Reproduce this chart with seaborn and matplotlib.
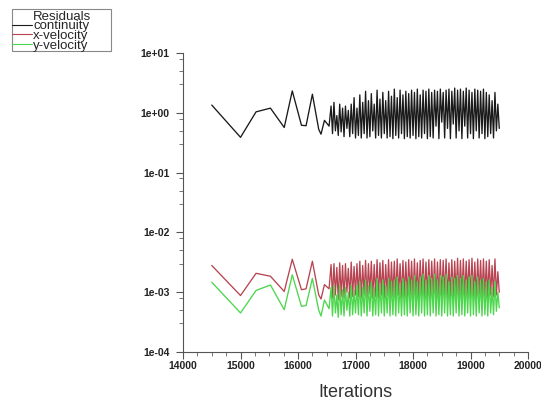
import numpy as np
import pandas as pd
import seaborn as sns
import matplotlib
matplotlib.use("Agg")
import matplotlib.pyplot as plt
from matplotlib.lines import Line2D
from matplotlib.patches import Rectangle
from matplotlib.ticker import MultipleLocator, LogLocator, FuncFormatter, NullFormatter

# sparse start of the run
iters_early = [14500, 15000, 15270, 15520, 15760, 15900, 16060, 16140, 16250, 16360, 16400, 16460, 16540]
cont_early = [1.35, 0.39, 1.04, 1.2, 0.57, 2.33, 0.62, 0.61, 2.05, 0.53, 0.44, 0.75, 0.6]
xvel_early = [2.8, 0.88, 2.07, 1.85, 1.03, 3.55, 1.1, 1.14, 3.3, 0.9, 0.77, 1.34, 1.14]   # x 1e-3
yvel_early = [1.47, 0.45, 1.07, 1.32, 0.51, 1.96, 0.58, 0.6, 1.7, 0.5, 0.4, 0.74, 0.53]   # x 1e-3

# dense oscillating part, one value every 25 iterations
iters_dense = list(range(16575, 19525, 25))
cont_dense = [
    1.3, 0.45, 1.5, 0.5, 0.9, 0.42, 1.4, 0.48, 1.2, 0.4, 1.3, 0.55, 1.1, 0.4, 1.4, 0.45, 1.8, 0.38,
    1.2, 0.42, 2.0, 0.38, 1.5, 0.45, 2.3, 0.38, 1.6, 0.4, 2.1, 0.5, 1.4, 0.38, 2.4, 0.42, 1.7, 0.38,
    2.2, 0.45, 1.6, 0.38, 2.3, 0.4, 1.9, 0.37, 2.5, 0.42, 1.8, 0.38, 2.4, 0.45, 2.0, 0.37, 2.3, 0.4,
    2.1, 0.38, 2.4, 0.42, 2.2, 0.37, 2.5, 0.4, 2.0, 0.38, 2.4, 0.45, 2.3, 0.37, 2.5, 0.4, 2.2, 0.38,
    2.4, 0.6, 2.3, 0.37, 2.5, 0.7, 2.2, 0.38, 2.4, 0.55, 2.5, 0.37, 2.3, 0.65, 2.6, 0.38, 2.4, 0.5,
    2.5, 0.37, 2.3, 0.6, 2.6, 0.38, 2.4, 0.45, 2.2, 0.37, 2.5, 0.5, 2.4, 0.38, 2.3, 0.45, 2.5, 0.37,
    2.2, 0.4, 2.0, 0.45, 1.6, 0.38, 2.2, 0.5, 1.4, 0.55,
]
xvel_dense = [
    2.9, 0.8, 3.0, 0.9, 2.6, 0.75, 3.1, 0.85, 2.8, 0.8, 3.0, 1.0, 2.5, 0.8, 3.2, 0.85, 2.7, 0.9,
    3.0, 0.85, 3.3, 0.8, 2.8, 0.9, 3.4, 0.8, 3.0, 0.95, 3.3, 0.8, 2.9, 0.85, 3.5, 0.8, 3.1, 0.9,
    3.4, 0.8, 2.9, 0.9, 3.5, 0.8, 3.2, 0.85, 3.3, 0.8, 3.6, 0.9, 3.0, 0.8, 3.4, 0.85, 3.2, 0.8,
    3.5, 0.9, 3.3, 0.8, 3.6, 0.85, 3.1, 0.8, 3.4, 0.9, 3.6, 0.8, 3.2, 0.85, 3.5, 0.8, 3.3, 0.9,
    3.6, 0.8, 3.2, 0.85, 3.5, 0.8, 3.4, 0.9, 3.6, 0.8, 3.1, 0.85, 3.5, 0.8, 3.3, 0.9, 3.7, 0.8,
    3.4, 0.85, 3.6, 0.8, 3.3, 0.9, 3.5, 0.8, 3.7, 0.85, 3.2, 0.8, 3.6, 0.9, 3.4, 0.8, 3.6, 0.85,
    3.3, 0.8, 3.5, 0.9, 2.8, 0.85, 3.6, 0.9, 2.2, 1.0,
]
yvel_dense = [
    1.2, 0.4, 1.3, 0.45, 0.9, 0.38, 1.3, 0.42, 1.1, 0.4, 1.2, 0.5, 1.0, 0.4, 1.3, 0.42, 1.1, 0.45,
    1.3, 0.42, 1.5, 0.4, 1.2, 0.45, 1.6, 0.4, 1.3, 0.48, 1.5, 0.4, 1.2, 0.42, 1.7, 0.4, 1.4, 0.45,
    1.6, 0.4, 1.3, 0.45, 1.7, 0.4, 1.5, 0.42, 1.6, 0.4, 1.8, 0.45, 1.4, 0.4, 1.7, 0.42, 1.5, 0.4,
    1.8, 0.45, 1.6, 0.4, 1.9, 0.42, 1.5, 0.4, 1.8, 0.45, 2.0, 0.4, 1.6, 0.42, 1.9, 0.4, 1.7, 0.45,
    2.0, 0.4, 1.6, 0.42, 1.9, 0.4, 1.8, 0.45, 2.0, 0.4, 1.5, 0.42, 1.8, 0.4, 1.7, 0.45, 1.9, 0.4,
    1.7, 0.42, 1.9, 0.4, 1.6, 0.45, 1.8, 0.4, 1.9, 0.42, 1.5, 0.4, 1.8, 0.45, 1.6, 0.4, 1.7, 0.42,
    1.5, 0.4, 1.6, 0.45, 1.2, 0.42, 1.5, 0.48, 1.0, 0.55,
]

series_names = ["continuity", "x-velocity", "y-velocity"]
colors = {"continuity": "#1a1a1a", "x-velocity": "#b84452", "y-velocity": "#4cd64c"}

iters = iters_early + iters_dense
df = pd.concat([
    pd.DataFrame({"iter": iters, "res": cont_early + cont_dense, "series": "continuity"}),
    pd.DataFrame({"iter": iters, "res": np.array(xvel_early + xvel_dense) * 1e-3, "series": "x-velocity"}),
    pd.DataFrame({"iter": iters, "res": np.array(yvel_early + yvel_dense) * 1e-3, "series": "y-velocity"}),
], ignore_index=True)

sns.set_style("ticks")
plt.rcParams["font.family"] = ["Liberation Sans", "DejaVu Sans"]

fig = plt.figure(figsize=(5.41, 4.05), dpi=100)
ax = fig.add_axes([0.3383, 0.1309, 0.6377, 0.738])

sns.lineplot(data=df, x="iter", y="res", hue="series", palette=colors,
             estimator=None, sort=False, lw=0.95, legend=False, ax=ax)

ax.set_yscale("log")
ax.set_xlim(14000, 20000)
ax.set_ylim(1e-4, 1e1)
ax.xaxis.set_major_locator(MultipleLocator(1000))
ax.xaxis.set_minor_locator(MultipleLocator(250))
ax.yaxis.set_major_locator(LogLocator(base=10, numticks=10))
ax.yaxis.set_minor_locator(LogLocator(base=10, subs=[3, 5, 8], numticks=10))
ax.yaxis.set_minor_formatter(NullFormatter())
ax.yaxis.set_major_formatter(FuncFormatter(lambda v, p: f"{v:.0e}"))

for s in ["top", "right"]:
    ax.spines[s].set_visible(False)
for s in ["left", "bottom"]:
    ax.spines[s].set_color("#555555")
    ax.spines[s].set_linewidth(0.8)

ax.tick_params(which="major", length=5, width=0.8, color="#555555",
               labelsize=7.5, labelcolor="#222222")
ax.tick_params(which="minor", length=3, width=0.7, color="#777777")
ax.tick_params(axis="y", which="major", pad=4.5)
ax.tick_params(axis="x", which="major", pad=1.5)
for lab in ax.get_xticklabels() + ax.get_yticklabels():
    lab.set_fontweight("bold")

ax.set_ylabel("")
ax.set_xlabel("Iterations", fontsize=13, color="#333333",
              family=["Liberation Sans Narrow", "Liberation Sans"])
ax.xaxis.set_label_coords(0.5, -0.107)

# legend in the top-left corner of the figure
handles = [Line2D([], [], alpha=0)] + [Line2D([], [], color=colors[n], lw=0.8) for n in series_names]
labels = ["Residuals"] + series_names
fig.legend(handles, labels, loc="upper left", bbox_to_anchor=(12 / 541, 1 - 10.5 / 405),
           bbox_transform=fig.transFigure, frameon=False, fontsize=9.5,
           handlelength=1.5, handletextpad=0.1, labelspacing=-0.2, borderpad=0,
           borderaxespad=0)
fig.add_artist(Rectangle((11.7 / 541, 1 - 51 / 405), 99.3 / 541, 42 / 405,
                         transform=fig.transFigure, fill=False, ec="#888888", lw=0.8))

fig.savefig("out.png", dpi=100)
